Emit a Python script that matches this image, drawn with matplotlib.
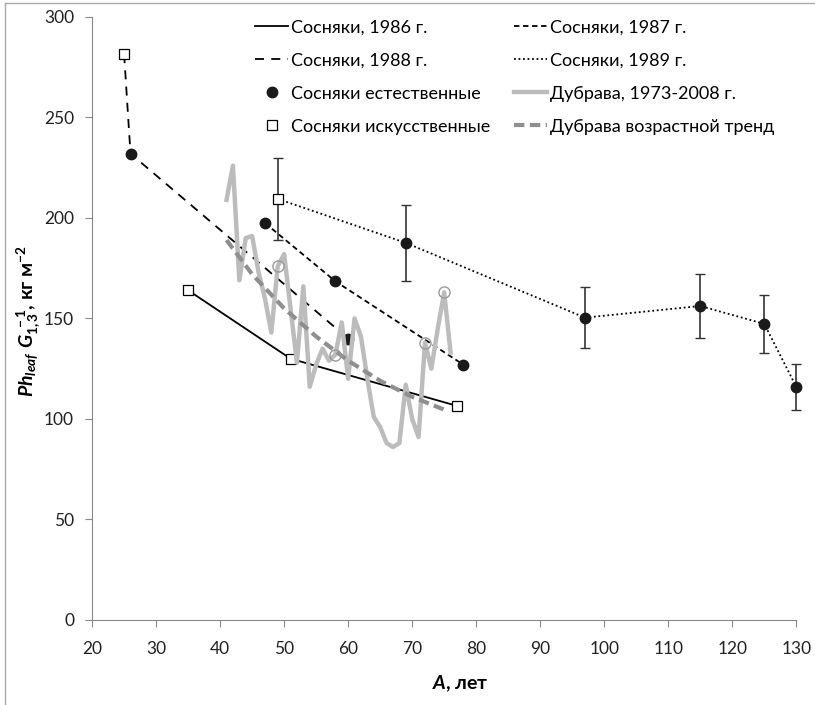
import matplotlib
matplotlib.use('Agg')
import matplotlib.pyplot as plt
from matplotlib.lines import Line2D

plt.rcParams['font.family'] = ['Lato', 'DejaVu Sans']
plt.rcParams['mathtext.fontset'] = 'custom'
plt.rcParams['mathtext.rm'] = 'Lato:bold'
plt.rcParams['mathtext.it'] = 'Lato:italic:bold'
plt.rcParams['mathtext.bf'] = 'Lato:bold'

# сосняки, по годам обследования
age_1986 = [35, 51, 77]
ph_1986 = [164, 130, 106.5]
age_1987 = [47, 58, 78]
ph_1987 = [197.5, 168.5, 127]
age_1988 = [25, 26, 60]
ph_1988 = [281.5, 232, 140]
age_1989 = [49, 69, 97, 115, 125, 130]
ph_1989 = [209.5, 187.6, 150.4, 156.2, 147.3, 116]
err_1989 = [20.5, 19, 15, 16, 14.5, 11.5]

# естественные (круги) и искусственные (квадраты)
age_nat = [26, 47, 58, 78, 60, 69, 97, 115, 125, 130]
ph_nat = [232, 197.5, 168.5, 127, 140, 187.6, 150.4, 156.2, 147.3, 116]
age_art = [25, 35, 51, 77, 49]
ph_art = [281.5, 164, 130, 106.5, 209.5]

# дубрава 1973-2008
age_oak = list(range(41, 77))
ph_oak = [209, 226, 169, 190, 191, 173, 160, 143, 176, 182,
          155, 128, 166, 116, 127, 135, 129, 132, 148, 120,
          150, 141, 120, 101, 96, 88, 86, 88, 117, 100,
          91, 138, 125, 145, 163, 133]
age_oak_mark = [49, 58, 72, 75]
ph_oak_mark = [176, 132, 138, 163]

# возрастной тренд
age_trend = [41, 45, 50, 55, 60, 65, 70, 75.5]
ph_trend = [189, 172, 155, 141, 129, 119, 111, 104]

fig = plt.figure(figsize=(8.15, 7.05), dpi=100)
ax = fig.add_axes([0.113, 0.1206, 0.864, 0.8554])

ax.plot(age_1986, ph_1986, color='black', lw=1.3, zorder=2)
ax.plot(age_1987, ph_1987, color='black', lw=1.3, ls=(0, (3, 2)), zorder=2)
ax.plot(age_1988, ph_1988, color='black', lw=1.3, ls=(0, (5, 4)), zorder=2)
ax.plot(age_1989, ph_1989, color='black', lw=1.3, ls=(0, (1, 1.5)), zorder=2,
        clip_on=False)
eb = ax.errorbar(age_1989, ph_1989, yerr=err_1989, fmt='none', ecolor='#333333',
                 elinewidth=1.2, capsize=3.5, capthick=1, zorder=2)
for part in eb.lines[1] + eb.lines[2]:
    part.set_clip_on(False)

ax.plot(age_nat, ph_nat, ls='none', marker='o', ms=7.5, color='#1a1a1a', zorder=3,
        clip_on=False)
ax.plot(age_art, ph_art, ls='none', marker='s', ms=7.5, mfc='white', mec='black',
        mew=0.9, zorder=3)

ax.plot(age_oak, ph_oak, color='#bcbcbc', lw=3.2, zorder=4)
ax.plot(age_trend, ph_trend, color='#8f8f8f', lw=3, ls=(0, (2.5, 1.3)), zorder=5)
ax.plot(age_oak_mark, ph_oak_mark, ls='none', marker='o', ms=8, mfc='none',
        mec='#999999', mew=1, zorder=6)

ax.set_xlim(20, 130)
ax.set_ylim(0, 300)
ax.set_xticks(range(20, 131, 10))
ax.set_yticks(range(0, 301, 50))
for s in ['top', 'right']:
    ax.spines[s].set_visible(False)
for s in ['left', 'bottom']:
    ax.spines[s].set_color('#888888')
ax.tick_params(colors='#888888', labelcolor='#222222', labelsize=12.5,
               length=5, direction='out')
ax.tick_params(axis='x', pad=10)
ax.tick_params(axis='y', pad=8)

fig.text(0.565, 0.03, '$A$, лет', ha='center', va='center', fontsize=14,
         fontweight='bold')
fig.text(0.035, 0.545, r'$Ph_{leaf}\ G_{1,3}^{\ -1}$, кг м$^{-2}$', ha='center',
         va='center', rotation=90, fontsize=14, fontweight='bold')

handles = [
    Line2D([], [], color='black', lw=1.3),
    Line2D([], [], color='black', lw=1.3, ls=(0, (5, 4))),
    Line2D([], [], ls='none', marker='o', ms=7.5, color='#1a1a1a'),
    Line2D([], [], ls='none', marker='s', ms=7, mfc='white', mec='black', mew=0.9),
    Line2D([], [], color='black', lw=1.3, ls=(0, (3, 2))),
    Line2D([], [], color='black', lw=1.3, ls=(0, (1, 1.5))),
    Line2D([], [], color='#bcbcbc', lw=3.2),
    Line2D([], [], color='#8f8f8f', lw=3, ls=(0, (2.5, 1.3))),
]
labels = ['Сосняки, 1986 г.', 'Сосняки, 1988 г.', 'Сосняки естественные',
          'Сосняки искусственные', 'Сосняки, 1987 г.', 'Сосняки, 1989 г.',
          'Дубрава, 1973-2008 г.', 'Дубрава возрастной тренд']
fig.legend(handles, labels, ncol=2, frameon=False, fontsize=13,
           loc='upper left', bbox_to_anchor=(0.3, 0.988), handlelength=1.8,
           handletextpad=0.2, columnspacing=1.3, labelspacing=0.95,
           borderpad=0.1)

# рамка области диаграммы
fig.add_artist(Line2D([0.006, 0.006], [0, 0.996], color='#aaaaaa', lw=1,
                      transform=fig.transFigure))
fig.add_artist(Line2D([0.006, 1], [0.996, 0.996], color='#aaaaaa', lw=1,
                      transform=fig.transFigure))

fig.savefig('out.png', dpi=100)
